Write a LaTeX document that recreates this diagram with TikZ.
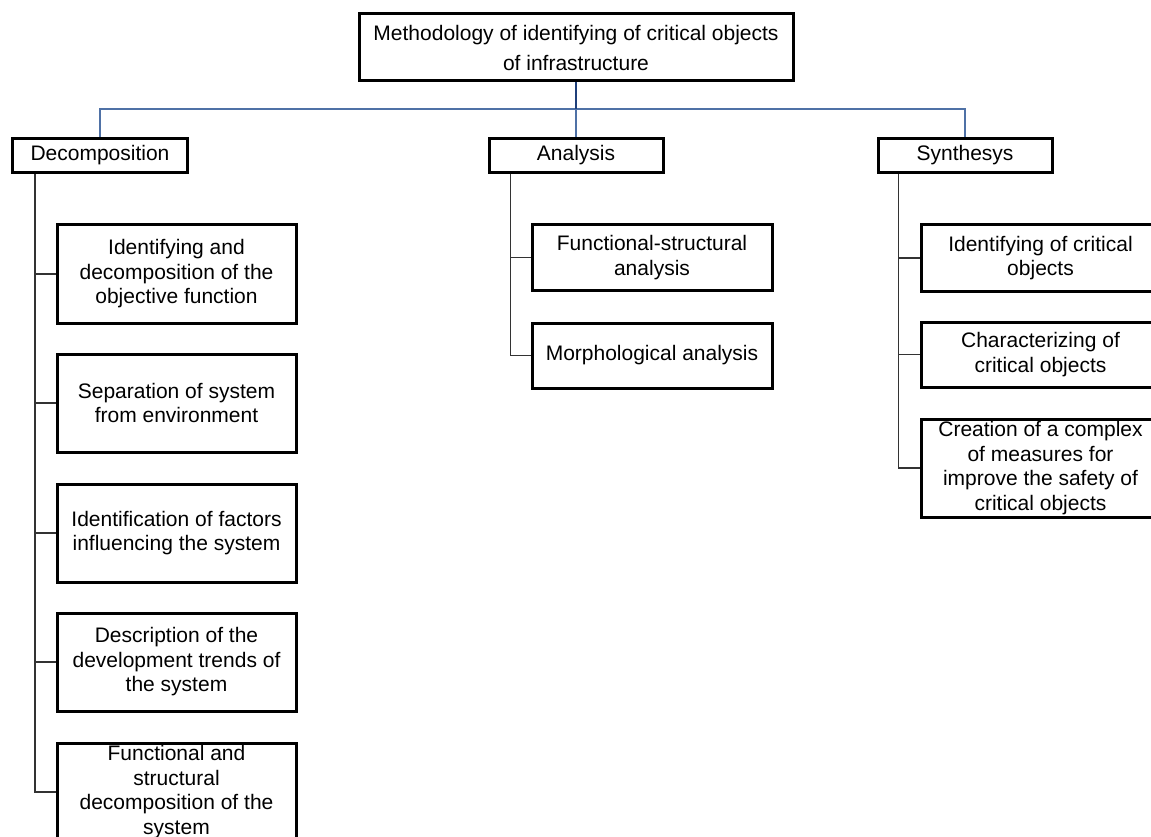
\documentclass[tikz,border=0pt]{standalone}
\usepackage{fontspec}
\setmainfont{Liberation Sans}
\definecolor{busblue}{RGB}{79,113,166}
\definecolor{stemblue}{RGB}{31,63,122}
\begin{document}
\begin{tikzpicture}[x=1pt,y=-1pt,
  box/.style={draw=black, line width=3pt, fill=white, inner sep=0pt, align=center,
              font=\fontsize{21}{24.5}\selectfont},
  conn/.style={draw=black!80, line width=1.2pt},
  bus/.style={draw=busblue, line width=1.3pt}]
\clip (0,0) rectangle (1151,837);
\fill[white] (0,0) rectangle (1151,837);

% root
\node[box, minimum width=434pt, minimum height=67pt, font=\fontsize{21}{30}\selectfont]
  (top) at (576,47.5) {Methodology of identifying of critical objects\\of infrastructure};

% level 1
\node[box, minimum width=175pt, minimum height=34pt] (decomp) at (100,155.5) {Decomposition};
\node[box, minimum width=174pt, minimum height=34pt] (analysis) at (576,155.5) {Analysis};
\node[box, minimum width=174pt, minimum height=34pt] (synth) at (965,155.5) {Synthesys};

% decomposition children
\node[box, minimum width=239pt, minimum height=98pt] (d1) at (176.5,274) {Identifying and\\decomposition of the\\objective function};
\node[box, minimum width=239pt, minimum height=98pt] (d2) at (176.5,403) {Separation of system\\from environment};
\node[box, minimum width=239pt, minimum height=98pt] (d3) at (176.5,533) {Identification of factors\\influencing the system};
\node[box, minimum width=239pt, minimum height=98pt] (d4) at (176.5,662) {Description of the\\development trends of\\the system};
\node[box, minimum width=239pt, minimum height=98pt] (d5) at (176.5,792) {Functional and\\structural\\decomposition of the\\system};

% analysis children
\node[box, minimum width=240pt, minimum height=65pt] (a1) at (652,257.5) {Functional-structural\\analysis};
\node[box, minimum width=240pt, minimum height=65pt] (a2) at (652,355.5) {Morphological analysis};

% synthesis children
\node[box, minimum width=239pt, minimum height=66pt] (s1) at (1040.5,258) {Identifying of critical\\objects};
\node[box, minimum width=239pt, minimum height=65pt] (s2) at (1040.5,354.5) {Characterizing of\\critical objects};
\node[box, minimum width=239pt, minimum height=98pt] (s3) at (1040.5,468) {Creation of a complex\\of measures for\\improve the safety of\\critical objects};

% bus from root
\coordinate (busy) at (576,109);
\draw[bus] (busy) -| (decomp.north);
\draw[bus] (busy) -| (synth.north);
\draw[bus] (busy) -- (analysis.north);
\draw[draw=stemblue, line width=1.3pt] (top.south) -- (busy);

% decomposition tree
\foreach \c in {d1,d2,d3,d4,d5}
  \draw[conn] ([xshift=24pt]decomp.south west) |- (\c.west);
% analysis tree
\foreach \c in {a1,a2}
  \draw[conn] ([xshift=23pt]analysis.south west) |- (\c.west);
% synthesis tree
\foreach \c in {s1,s2,s3}
  \draw[conn] ([xshift=22pt]synth.south west) |- (\c.west);
\end{tikzpicture}
\end{document}
